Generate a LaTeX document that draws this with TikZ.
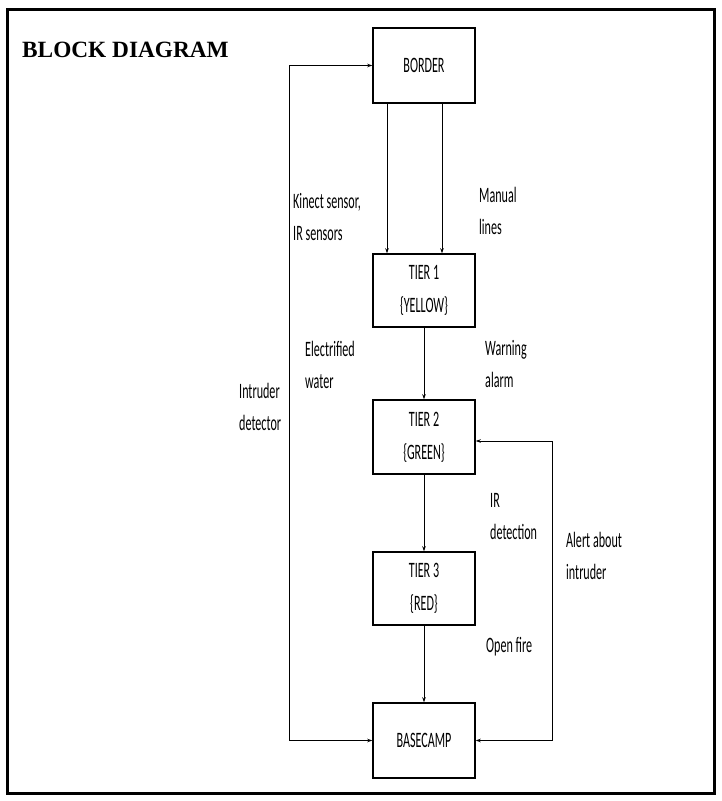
\documentclass[tikz,border=0pt]{standalone}
\usepackage{fontspec}
\setmainfont{Carlito}[FakeStretch=0.55]
\newfontfamily\titlefont{Liberation Serif}
\usetikzlibrary{arrows.meta}
\begin{document}
\begin{tikzpicture}[x=1pt,y=-1pt,
  blk/.style={draw, line width=1.5pt, minimum width=102pt, inner sep=0pt, align=center, font=\fontsize{22}{33}\selectfont},
  lbl/.style={anchor=west, align=left, inner sep=0pt, font=\fontsize{22}{32}\selectfont},
  conn/.style={line width=0.8pt, -{Stealth[length=5pt,width=3.5pt]}},
  both/.style={line width=0.8pt, {Stealth[length=5pt,width=3.5pt]}-{Stealth[length=5pt,width=3.5pt]}}
  ]
\useasboundingbox (0,0) rectangle (722,801);
\draw[line width=3pt] (7.5,9.5) rectangle (714.5,793.5);
\node[anchor=west, inner sep=0pt, font=\titlefont\bfseries\fontsize{23.3}{28}\selectfont] (title) at (22,50) {BLOCK DIAGRAM};

\node[blk, minimum height=75pt] (border) at (424,65.5) {BORDER};
\node[blk, minimum height=73pt] (tier1) at (424,290.5) {TIER 1\\\{YELLOW\}};
\node[blk, minimum height=74pt] (tier2) at (424,437) {TIER 2\\\{GREEN\}};
\node[blk, minimum height=73pt] (tier3) at (424,588.5) {TIER 3\\\{RED\}};
\node[blk, minimum height=75pt] (base) at (424,740.5) {BASECAMP};

\draw[conn] ([xshift=-37pt]border.south) -- ([xshift=-37pt]tier1.north);
\draw[conn] ([xshift=18pt]border.south) -- ([xshift=18pt]tier1.north);
\draw[conn] (tier1.south) -- (tier2.north);
\draw[conn] (tier2.south) -- (tier3.north);
\draw[conn] (tier3.south) -- (base.north);

\coordinate (lt) at (289,65.5);
\coordinate (lb) at (289,740.5);
\draw[both] (border.west) -- (lt) -- (lb) -- (base.west);
\coordinate (rt) at (552,441);
\coordinate (rb) at (552,740.5);
\draw[both] ([yshift=-4pt]tier2.east) -- (rt) -- (rb) -- (base.east);

\node[lbl] (l1) at (293,217.5) {Kinect sensor,\\IR sensors};
\node[lbl] (l2) at (479,211) {Manual\\lines};
\node[lbl] (l3) at (305,364.5) {Electrified\\water};
\node[lbl] (l4) at (485,364.5) {Warning\\alarm};
\node[lbl] (l5) at (239,407) {Intruder\\detector};
\node[lbl] (l6) at (490,516.5) {IR\\detection};
\node[lbl] (l7) at (566,556) {Alert about\\intruder};
\node[lbl] (l8) at (486,647) {Open fire};
\end{tikzpicture}
\end{document}
